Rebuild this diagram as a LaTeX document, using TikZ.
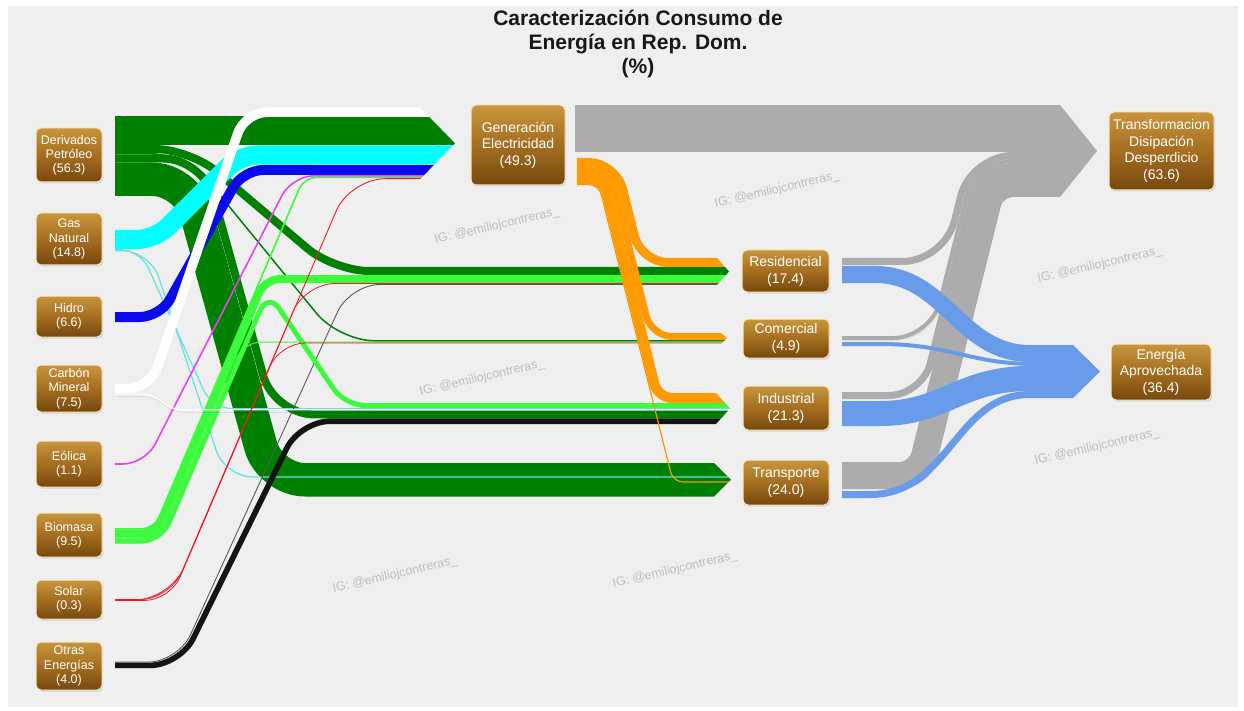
\documentclass[tikz,border=0pt]{standalone}
\usepackage{fontspec}
\setmainfont{Liberation Sans}
\usetikzlibrary{shadows}
\definecolor{bgc}{RGB}{239,239,239}
\definecolor{cPet}{RGB}{0,128,0}
\definecolor{cGas}{RGB}{0,255,255}
\definecolor{cGasL}{RGB}{100,225,225}
\definecolor{cHid}{RGB}{10,10,235}
\definecolor{cEol}{RGB}{225,70,235}
\definecolor{cBio}{RGB}{60,250,60}
\definecolor{cSol}{RGB}{235,30,40}
\definecolor{cOtr}{RGB}{20,20,20}
\definecolor{cEle}{RGB}{255,155,0}
\definecolor{cLoss}{RGB}{172,172,172}
\definecolor{cUse}{RGB}{105,155,235}
\definecolor{nTop}{RGB}{200,150,62}
\definecolor{nMid}{RGB}{165,110,32}
\definecolor{nBot}{RGB}{118,72,14}
\definecolor{nEdge}{RGB}{250,232,190}
\definecolor{wmc}{RGB}{192,192,192}
\tikzset{
  flw/.style={line cap=butt, line join=round},
  sh/.style={preaction={draw=black, opacity=0.13, transform canvas={shift={(1.5pt,-2.5pt)}}}},
  box/.style={rounded corners=5pt, top color=nTop, bottom color=nBot, middle color=nMid,
    draw=nEdge, line width=1pt, text=white, align=center, inner sep=1pt,
    drop shadow={opacity=0.25, shadow xshift=1.2pt, shadow yshift=-1.5pt}},
  lbl/.style={box, font=\fontsize{12.5}{14.2}\selectfont},
  midbox/.style={box, font=\fontsize{14}{17}\selectfont},
  bigbox/.style={box, font=\fontsize{14}{16.7}\selectfont},
  wmark/.style={text=wmc, font=\fontsize{12.5}{14}\selectfont, rotate=13}
}
\newcommand\clipGen{\clip (0,0) -- (420,0) -- (420,107.5) -- (455,143.35) -- (420,179.2) -- (420,711) -- (0,711) -- cycle;}
\newcommand\clipRes{\clip (0,0) -- (717,0) -- (717,258) -- (729,271.5) -- (717,285) -- (717,711) -- (0,711) -- cycle;}
\newcommand\clipCom{\clip (0,0) -- (721,0) -- (721,333) -- (727,338.25) -- (721,343.5) -- (721,711) -- (0,711) -- cycle;}
\newcommand\clipInd{\clip (0,0) -- (716,0) -- (716,393) -- (730,408.5) -- (716,424) -- (716,711) -- (0,711) -- cycle;}
\newcommand\clipTra{\clip (0,0) -- (714,0) -- (714,463) -- (731,479.75) -- (714,496.5) -- (714,711) -- (0,711) -- cycle;}
\newcommand\clipTdd{\clip (0,0) -- (1060,0) -- (1060,105) -- (1097,151) -- (1060,197) -- (1060,711) -- (0,711) -- cycle;}
\newcommand\clipApr{\clip (0,0) -- (1073,0) -- (1073,345) -- (1100,371.5) -- (1073,398) -- (1073,711) -- (0,711) -- cycle;}
\newcommand\fl[3]{\begin{scope}#1\draw[flw,#2] #3;\end{scope}}
\begin{document}
\begin{tikzpicture}[x=1pt,y=-1pt]
\useasboundingbox (0,0) rectangle (1244,711);
\fill[white] (0,0) rectangle (1244,711);
\fill[bgc] (8,6) rectangle (1238,707);

% watermarks
\node[wmark] (w1) at (497,226) {IG: @emiliojcontreras\_};
\node[wmark] (w2) at (777,190) {IG: @emiliojcontreras\_};
\node[wmark] (w3) at (1100,265) {IG: @emiliojcontreras\_};
\node[wmark] (w4) at (482,378) {IG: @emiliojcontreras\_};
\node[wmark] (w5) at (1097,447) {IG: @emiliojcontreras\_};
\node[wmark] (w6) at (395,575) {IG: @emiliojcontreras\_};
\node[wmark] (w7) at (675,570) {IG: @emiliojcontreras\_};

% ---- losses (grey) ----
\fl{\clipTdd}{cLoss,line width=47pt,sh}{(575,128.5) -- (1100,128.5)}
\fl{\clipTdd}{cLoss,line width=7pt,sh,rounded corners=41.8pt}{(842,261.5) -- (944.3,261.5) -- (970.8,155.5) -- (1100,155.5)}
\fl{\clipTdd}{cLoss,line width=4pt,sh,rounded corners=37.6pt}{(842,338) -- (930.9,338) -- (975.2,161) -- (1100,161)}
\fl{\clipTdd}{cLoss,line width=7pt,sh,rounded corners=33.3pt}{(842,395.5) -- (922.2,395.5) -- (979.5,166.5) -- (1100,166.5)}
\fl{\clipTdd}{cLoss,line width=27pt,sh,rounded corners=20pt}{(842,475.5) -- (919.6,475.5) -- (992.6,183.5) -- (1100,183.5)}
% ---- useful (blue) ----
\fl{\clipApr}{cUse,line width=17pt,sh}{(842,274.5) -- (875,274.5) .. controls (945,274.5) and (960,353.5) .. (1030,353.5) -- (1100,353.5)}
\fl{\clipApr}{cUse,line width=4pt}{(842,344) -- (880,344) .. controls (950,344) and (970,364) .. (1035,364) -- (1100,364)}
\fl{\clipApr}{cUse,line width=25pt,sh}{(842,413.5) -- (880,413.5) .. controls (945,413.5) and (960,378.5) .. (1030,378.5) -- (1100,378.5)}
\fl{\clipApr}{cUse,line width=7pt,sh}{(842,494.5) -- (870,494.5) .. controls (950,494.5) and (955,394.5) .. (1030,394.5) -- (1100,394.5)}

% ---- petroleum ----
\fl{\clipGen}{cPet,line width=29pt,sh}{(115,130.5) -- (470,130.5)}
\fl{\clipTra}{cPet,line width=33.5pt,sh,rounded corners=35pt}{(115,179.25) -- (187,179.25) -- (270,479.75) -- (735,479.75)}
\fl{\clipInd}{cPet,line width=8pt,sh,rounded corners=40pt}{(115,158.5) -- (203,158.5) -- (274,414.4) -- (735,414.4)}
\fl{\clipCom}{cPet,line width=1.5pt,rounded corners=35pt}{(115,153.75) -- (186,153.75) -- (339,340.75) -- (735,340.75)}
\fl{\clipRes}{cPet,line width=8pt,sh,rounded corners=35pt}{(115,149) -- (190,149) -- (334,271) -- (735,271)}
% ---- gas ----
\fl{\clipGen}{cGas,line width=19pt,sh,rounded corners=18pt}{(115,239.5) -- (155,239.5) -- (240,155) -- (470,155)}
\fl{\clipInd}{cGasL,line width=1.2pt,rounded corners=20pt}{(115,249.6) -- (140,249.6) -- (212,408.6) -- (735,408.6)}
\fl{\clipTra}{cGasL,line width=1.2pt,rounded corners=28pt}{(115,250.8) -- (150,250.8) -- (225,477) -- (735,477)}
% ---- hidro ----
\fl{\clipGen}{cHid,line width=10pt,sh,rounded corners=20pt}{(115,317) -- (160,317) -- (243,170) -- (470,170)}
% ---- otras ----
\fl{\clipInd}{cOtr,line width=5.6pt,sh,rounded corners=30pt}{(115,665.4) -- (180,665.4) -- (300,421.2) -- (735,421.2)}
\fl{\clipRes}{black!65,line width=0.9pt,rounded corners=30pt}{(115,662.1) -- (178,662.1) -- (350,284.5) -- (735,284.5)}
% ---- biomasa ----
\fl{\clipGen}{cBio,line width=1.6pt,rounded corners=12pt}{(115,528.8) -- (154,528.8) -- (304,177.4) -- (470,177.4)}
\fl{\clipRes}{cBio,line width=8pt,sh,rounded corners=15.2pt}{(115,533.6) -- (156,533.6) -- (265,279) -- (735,279)}
\fl{\clipCom}{cBio,line width=1pt,rounded corners=18.1pt}{(115,538.1) -- (159,538.1) -- (243,342) -- (735,342)}
\fl{\clipInd}{cBio,line width=5pt,sh,rounded corners=20.1pt}{(115,541.1) -- (161,541.1) -- (268,292) -- (345,405.5) -- (735,405.5)}
% ---- eolica ----
\fl{\clipGen}{cEol,line width=1.6pt,rounded corners=22pt}{(115,464) -- (145,464) -- (292,175.8) -- (470,175.8)}
% ---- carbon ----
\fl{\clipInd}{white,line width=1.2pt,sh,rounded corners=10pt}{(115,394.1) -- (152,394.1) -- (172,409.8) -- (735,409.8)}
\fl{\clipGen}{white,line width=9.5pt,sh,rounded corners=22pt}{(115,388.5) -- (150,388.5) -- (245,112.25) -- (470,112.25)}
% ---- solar ----
\fl{\clipGen}{cSol,line width=0.9pt,rounded corners=35pt}{(115,600) -- (170,600) -- (350,178.7) -- (470,178.7)}
\fl{\clipRes}{cSol,line width=0.8pt,rounded corners=30pt}{(115,599.6) -- (170,599.6) -- (305,283.5) -- (735,283.5)}
\fl{\clipCom}{cSol,line width=0.8pt,rounded corners=25pt}{(115,600.4) -- (170,600.4) -- (280,343) -- (735,343)}
% ---- electricity (orange) ----
\fl{\clipTra}{cEle!85!brown,line width=1.2pt,rounded corners=10pt}{(577,184.6) -- (598.8,184.6) -- (673.1,482) -- (735,482)}
\fl{\clipInd}{cEle,line width=10pt,sh,rounded corners=14.4pt}{(577,179) -- (603.2,179) -- (657.9,398) -- (735,398)}
\fl{\clipCom}{cEle,line width=7pt,sh,rounded corners=21pt}{(577,170.5) -- (609.8,170.5) -- (651.3,336.5) -- (735,336.5)}
\fl{\clipRes}{cEle,line width=9pt,sh,rounded corners=27.2pt}{(577,162.5) -- (616,162.5) -- (641,262.5) -- (735,262.5)}

% ---- nodes ----
\node[lbl, minimum width=66pt, minimum height=54pt] (pet) at (69,155) {Derivados\\Petróleo\\(56.3)};
\node[lbl, minimum width=66pt, minimum height=52pt] (gas) at (69,239) {Gas\\Natural\\(14.8)};
\node[lbl, minimum width=66pt, minimum height=41pt] (hid) at (69,316.5) {Hidro\\(6.6)};
\node[lbl, minimum width=66pt, minimum height=47pt] (car) at (69,388.5) {Carbón\\Mineral\\(7.5)};
\node[lbl, minimum width=66pt, minimum height=46pt] (eol) at (69,464) {Eólica\\(1.1)};
\node[lbl, minimum width=66pt, minimum height=44pt] (bio) at (69,535) {Biomasa\\(9.5)};
\node[lbl, minimum width=66pt, minimum height=39pt] (sol) at (69,599.5) {Solar\\(0.3)};
\node[lbl, minimum width=66pt, minimum height=48pt] (otr) at (69,666) {Otras\\Energías\\(4.0)};
\node[bigbox, minimum width=94pt, minimum height=80pt] (gen) at (518,145) {Generación\\Electricidad\\(49.3)};
\node[midbox, minimum width=87pt, minimum height=42pt] (res) at (785.5,271) {Residencial\\(17.4)};
\node[midbox, minimum width=86pt, minimum height=39pt] (com) at (786,338.5) {Comercial\\(4.9)};
\node[midbox, minimum width=86pt, minimum height=44pt] (ind) at (786,408) {Industrial\\(21.3)};
\node[midbox, minimum width=86pt, minimum height=45pt] (tra) at (786,482.5) {Transporte\\(24.0)};
\node[bigbox, minimum width=105pt, minimum height=78pt] (tdd) at (1161.5,151) {Transformacion\\Disipación\\Desperdicio\\(63.6)};
\node[bigbox, minimum width=100pt, minimum height=56pt] (apr) at (1161,372) {Energía\\Aprovechada\\(36.4)};

% ---- title ----
\node[align=center, text=black!90, font=\bfseries\fontsize{21}{24}\selectfont] (title) at (638,43.5) {Caracterización Consumo de\\Energía en Rep. Dom.\\(\%)};
\end{tikzpicture}
\end{document}
